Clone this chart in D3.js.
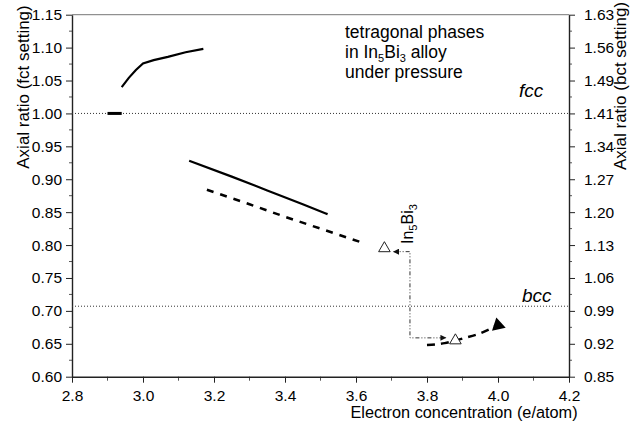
<!DOCTYPE html>
<html>
<head>
<meta charset="utf-8">
<script src="https://cdn.jsdelivr.net/npm/d3@7"></script>
<style>
  body { margin: 0; background: #fff; }
  svg { display: block; font-family: "Liberation Sans", Arial, sans-serif; }
</style>
</head>
<body>
<svg id="chart" width="633" height="428"></svg>
<script>
// values
const xTicks = [2.8, 3.0, 3.2, 3.4, 3.6, 3.8, 4.0, 4.2];
const yTicks = [0.60, 0.65, 0.70, 0.75, 0.80, 0.85, 0.90, 0.95, 1.00, 1.05, 1.10, 1.15];
const rightTickLabels = ['0.85', '0.92', '0.99', '1.06', '1.13', '1.20', '1.27', '1.34', '1.41', '1.49', '1.56', '1.63'];

const stubX = [2.90, 2.94];
const stubY = [1.000, 1.000];
const upperX = [2.94, 2.96, 2.98, 3.00, 3.03, 3.07, 3.12, 3.17];
const upperY = [1.040, 1.054, 1.066, 1.076, 1.081, 1.086, 1.093, 1.098];
const middleX = [3.13, 3.25, 3.35, 3.45, 3.52];
const middleY = [0.928, 0.904, 0.883, 0.862, 0.847];
const dashedX = [3.18, 3.30, 3.40, 3.50, 3.61];
const dashedY = [0.884, 0.862, 0.843, 0.825, 0.805];
const lowerX = [3.80, 3.85, 3.90, 3.95, 3.99];
const lowerY = [0.648, 0.651, 0.658, 0.666, 0.676];
const openTriX = [3.68, 3.88];
const openTriY = [0.795, 0.655];
const filledTriX = [4.00];
const filledTriY = [0.678];
const pathX = [3.706, 3.752, 3.752, 3.853];
const pathY = [0.790, 0.790, 0.659, 0.659];
const refValues = [1.0, Math.SQRT1_2];
const refLabels = ['fcc', 'bcc'];

const svg = d3.select('#chart');
const m = { left: 72, right: 569, top: 14.7, bottom: 376.7 };

const x = d3.scaleLinear().domain([2.8, 4.2]).range([m.left, m.right]);
const y = d3.scaleLinear().domain([0.6, 1.15]).range([m.bottom, m.top]);
const yR = d3.scaleLinear().domain([0.6 * Math.SQRT2, 1.15 * Math.SQRT2]).range([m.bottom, m.top]);

const zip = (xs, ys) => xs.map((v, i) => [v, ys[i]]);
const line = d3.line().x(d => x(d[0])).y(d => y(d[1]));
const smooth = d3.line().x(d => x(d[0])).y(d => y(d[1])).curve(d3.curveMonotoneX);

// frame top
svg.append('line')
  .attr('x1', m.left).attr('x2', m.right).attr('y1', m.top).attr('y2', m.top)
  .attr('stroke', '#777').attr('stroke-width', 1);

// minor ticks
const minorY = d3.range(0.625, 1.15, 0.05);
const minorX = d3.range(2.9, 4.2, 0.2);
const minor = svg.append('g').attr('stroke', '#555').attr('stroke-width', 1);
minor.selectAll('.ml').data(minorY).join('line')
  .attr('x1', m.left - 3).attr('x2', m.left).attr('y1', d => y(d)).attr('y2', d => y(d));
minor.selectAll('.mr').data(minorY).join('line')
  .attr('x1', m.right).attr('x2', m.right + 3).attr('y1', d => y(d)).attr('y2', d => y(d));
minor.selectAll('.mb').data(minorX).join('line')
  .attr('x1', d => x(d)).attr('x2', d => x(d)).attr('y1', m.bottom).attr('y2', m.bottom + 4);

const styleAxis = (g, size) => {
  g.select('.domain').attr('stroke', '#222').attr('stroke-width', 1.4);
  g.selectAll('.tick line').attr('stroke', '#222');
  g.selectAll('text').attr('font-size', size).attr('fill', '#000')
    .attr('font-family', '"Liberation Sans", Arial, sans-serif');
};

svg.append('g').attr('transform', `translate(0,${m.bottom})`)
  .call(d3.axisBottom(x).tickValues(xTicks).tickFormat(d3.format('.1f'))
    .tickSize(6).tickSizeOuter(0).tickPadding(7))
  .call(g => styleAxis(g, 15.5));

svg.append('g').attr('transform', `translate(${m.left},0)`)
  .call(d3.axisLeft(y).tickValues(yTicks).tickFormat(d3.format('.2f'))
    .tickSize(6).tickSizeOuter(0).tickPadding(4))
  .call(g => styleAxis(g, 15.5));

svg.append('g').attr('transform', `translate(${m.right},0)`)
  .call(d3.axisRight(yR).tickValues(yTicks.map(v => v * Math.SQRT2))
    .tickFormat((d, i) => rightTickLabels[i])
    .tickSize(6).tickSizeOuter(0).tickPadding(9))
  .call(g => styleAxis(g, 15.5));

// reference lines fcc / bcc
svg.selectAll('.ref').data(refValues).join('line')
  .attr('x1', m.left).attr('x2', m.right)
  .attr('y1', d => y(d)).attr('y2', d => y(d))
  .attr('stroke', '#333').attr('stroke-width', 1).attr('stroke-dasharray', '1,2');

svg.selectAll('.refLabel').data(refLabels).join('text')
  .attr('x', (d, i) => i === 0 ? 519 : 522)
  .attr('y', (d, i) => y(refValues[i]) - (i === 0 ? 16 : 4))
  .attr('font-size', 19).attr('font-style', 'italic').attr('fill', '#000')
  .text(d => d);

// curves
svg.append('path').datum(zip(stubX, stubY)).attr('d', line)
  .attr('fill', 'none').attr('stroke', '#000').attr('stroke-width', 3);
svg.append('path').datum(zip(upperX, upperY)).attr('d', line)
  .attr('fill', 'none').attr('stroke', '#000').attr('stroke-width', 2.2);
svg.append('path').datum(zip(middleX, middleY)).attr('d', smooth)
  .attr('fill', 'none').attr('stroke', '#000').attr('stroke-width', 2.2);
svg.append('path').datum(zip(dashedX, dashedY)).attr('d', smooth)
  .attr('fill', 'none').attr('stroke', '#000').attr('stroke-width', 2.5)
  .attr('stroke-dasharray', '7,7');
svg.append('path').datum(zip(lowerX, lowerY)).attr('d', smooth)
  .attr('fill', 'none').attr('stroke', '#000').attr('stroke-width', 2.5)
  .attr('stroke-dasharray', '8,6');

// transition path with arrows
const defs = svg.append('defs');
defs.append('marker').attr('id', 'arrow')
  .attr('viewBox', '0 0 10 10').attr('refX', 9).attr('refY', 5)
  .attr('markerWidth', 8).attr('markerHeight', 6).attr('markerUnits', 'userSpaceOnUse')
  .attr('orient', 'auto-start-reverse')
  .append('path').attr('d', 'M0,0L10,5L0,10Z').attr('fill', '#111');

svg.append('path').datum(zip(pathX, pathY)).attr('d', line)
  .attr('fill', 'none').attr('stroke', '#333').attr('stroke-width', 1)
  .attr('stroke-dasharray', '4,2,1,2,1,2')
  .attr('marker-start', 'url(#arrow)').attr('marker-end', 'url(#arrow)');

// markers
const tri = d3.symbol().type(d3.symbolTriangle);
svg.selectAll('.openTri').data(zip(openTriX, openTriY)).join('path')
  .attr('d', tri.size(58)())
  .attr('transform', d => `translate(${x(d[0])},${y(d[1])})`)
  .attr('fill', '#fff').attr('stroke', '#222').attr('stroke-width', 1);
svg.selectAll('.filledTri').data(zip(filledTriX, filledTriY)).join('path')
  .attr('d', tri.size(85)())
  .attr('transform', d => `translate(${x(d[0])},${y(d[1])}) rotate(-12)`)
  .attr('fill', '#000');

// In5Bi3 vertical label
const phase = svg.append('text')
  .attr('transform', 'translate(413,244) rotate(-90)')
  .attr('font-size', 16).attr('fill', '#000');
phase.append('tspan').text('In');
phase.append('tspan').attr('font-size', 11).attr('dy', 4).text('5');
phase.append('tspan').attr('dy', -4).text('Bi');
phase.append('tspan').attr('font-size', 11).attr('dy', 4).text('3');

// annotation block
const note = svg.append('g').attr('font-size', 17.5).attr('fill', '#000');
note.append('text').attr('x', 345).attr('y', 37.5).text('tetragonal phases');
const l2 = note.append('text').attr('x', 345).attr('y', 57.5);
l2.append('tspan').text('in In');
l2.append('tspan').attr('font-size', 11).attr('dy', 4).text('5');
l2.append('tspan').attr('dy', -4).text('Bi');
l2.append('tspan').attr('font-size', 11).attr('dy', 4).text('3');
l2.append('tspan').attr('dy', -4).text(' alloy');
note.append('text').attr('x', 345).attr('y', 78).text('under pressure');

// axis titles
svg.append('text').attr('x', 464).attr('y', 418).attr('text-anchor', 'middle')
  .attr('font-size', 16.3).attr('fill', '#000').text('Electron concentration (e/atom)');
svg.append('text').attr('transform', 'translate(29,87) rotate(-90)').attr('text-anchor', 'middle')
  .attr('font-size', 17).attr('fill', '#000').text('Axial ratio (fct setting)');
svg.append('text').attr('transform', 'translate(626,86) rotate(-90)').attr('text-anchor', 'middle')
  .attr('font-size', 17).attr('fill', '#000').text('Axial ratio (bct setting)');
</script>
</body>
</html>
